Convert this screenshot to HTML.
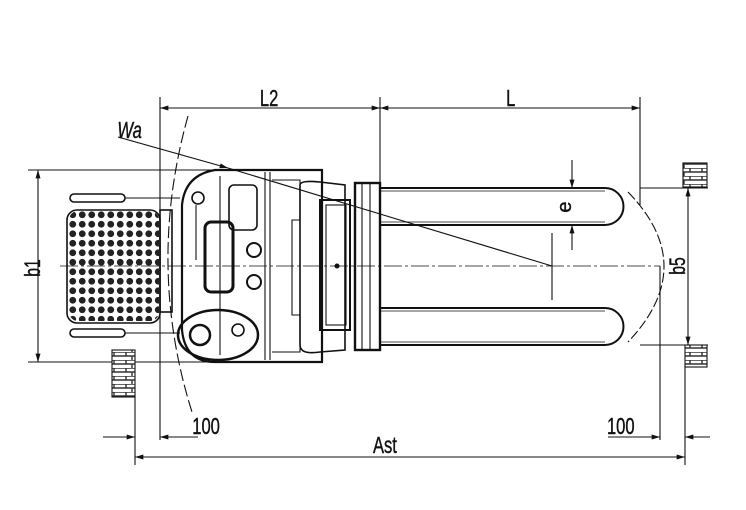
<!DOCTYPE html>
<html><head><style>body{margin:0;background:#fff}svg{display:block}text{font-family:"Liberation Sans",sans-serif;fill:#111;stroke:#111;stroke-width:0.4}</style></head><body>
<svg width="746" height="510" viewBox="0 0 746 510" xmlns="http://www.w3.org/2000/svg">
<defs>
<marker id="a" viewBox="0 0 10 6" refX="10" refY="3" markerWidth="16" markerHeight="5" orient="auto-start-reverse" markerUnits="userSpaceOnUse"><path d="M0,0L10,3L0,6z" fill="#111"/></marker>
<pattern id="dots" x="68" y="210" width="9.5" height="9.5" patternUnits="userSpaceOnUse"><circle cx="4.75" cy="4.75" r="3.4" fill="#222"/></pattern>
<pattern id="brick" width="24" height="8" patternUnits="userSpaceOnUse"><rect width="24" height="8" fill="#fff"/><path d="M0,0H24M0,4H24M6,0V4M18,0V4M12,4V8" stroke="#333" stroke-width="1.4"/></pattern>
</defs>
<g stroke="#111" fill="none" stroke-width="1.1">
<path d="M160,97V440M380,97V185M640,97V205M28,170H322M28,362H322M640,188H708M640,345H708M135,397V465M685,366V465M660,266V440"/>
<path d="M160,108H380" marker-start="url(#a)" marker-end="url(#a)"/>
<path d="M380,108H640" marker-start="url(#a)" marker-end="url(#a)"/>
<path d="M38,170V362" marker-start="url(#a)" marker-end="url(#a)"/>
<path d="M688,188V345" marker-start="url(#a)" marker-end="url(#a)"/>
<path d="M135,457H685" marker-start="url(#a)" marker-end="url(#a)"/>
<path d="M572,160V188" marker-end="url(#a)"/>
<path d="M572,250V225" marker-end="url(#a)"/>
<path d="M103,437H135" marker-end="url(#a)"/>
<path d="M160,437H198" marker-start="url(#a)"/>
<path d="M608,437H660" marker-end="url(#a)"/>
<path d="M685,437H710" marker-start="url(#a)"/>
<path d="M118,137L228,168" marker-end="url(#a)"/>
<path d="M228,168L552,266M552,233V300"/>
<path d="M60,266H660" stroke-dasharray="18,3,3,3" stroke-width="0.8"/>
<path d="M188,116Q146,266 192,412" stroke-dasharray="12,4"/>
<path d="M628,192Q700,266 628,342" stroke-dasharray="10,3"/>
<rect x="70" y="194" width="55" height="8" rx="4" stroke-width="1.6"/>
<rect x="70" y="329" width="55" height="8" rx="4" stroke-width="1.6"/>
<path d="M125,198H180M125,333H180"/>
<rect x="67" y="210" width="93" height="113" rx="10" stroke-width="1.6"/>
<rect x="69" y="211" width="90" height="110" rx="9" fill="url(#dots)" stroke="none"/>
<rect x="160" y="210" width="12" height="102" stroke-width="1.6"/>
<path d="M322,170H215Q185,175 182,205L182,330Q185,362 215,362H322Z" stroke-width="2.2"/>
<path d="M265,172V360M270,172V360M220,176V355"/>
<rect x="229" y="185" width="28" height="45" rx="5" stroke-width="1.6"/>
<rect x="205" y="222" width="28" height="70" rx="6" stroke-width="3"/>
<circle cx="254" cy="250" r="7" stroke-width="2"/>
<circle cx="254" cy="282" r="7" stroke-width="2"/>
<circle cx="198" cy="198" r="6" stroke-width="1.6"/>
<path d="M196,205V260"/>
<ellipse cx="218" cy="335" rx="40" ry="25" stroke-width="2.5"/>
<circle cx="200" cy="335" r="10" stroke-width="2.5"/>
<circle cx="238" cy="330" r="6" stroke-width="1.6"/>
<path d="M272,180H300V220H292V315H300V352H272"/>
<path d="M300,185Q300,180 320,182L345,185V350L320,352Q300,355 300,345Z" stroke-width="1.6"/>
<rect x="320" y="200" width="30" height="130" stroke-width="2"/>
<rect x="326" y="205" width="20" height="120"/>
<circle cx="337" cy="266" r="2" fill="#111"/>
<rect x="355" y="183" width="25" height="167" stroke-width="2.4"/>
<path d="M362,183V350M370,183V350"/>
<path d="M380,188H605A18.5,18.5 0 0 1 605,225H380" stroke-width="2"/>
<path d="M380,308H605A18.5,18.5 0 0 1 605,345H380" stroke-width="2"/>
<path d="M380,191H605M380,222H605M380,311H605M380,342H605" stroke-width="0.8"/>
<rect x="683" y="163" width="24" height="24" fill="url(#brick)"/>
<rect x="685" y="345" width="22" height="22" fill="url(#brick)"/>
<rect x="112" y="350" width="23" height="47" fill="url(#brick)"/>
</g>
<g font-size="23" transform="scale(0.72,1)">
<text x="361" y="106">L2</text>
<text x="703" y="106">L</text>
<text x="163" y="138" font-style="italic">Wa</text>
<text x="267" y="434">100</text>
<text x="843" y="434">100</text>
<text x="518" y="453">Ast</text>
</g>
<text font-size="22" transform="translate(40,268) rotate(-90) scale(0.72,1)" text-anchor="middle">b1</text>
<text font-size="22" transform="translate(685,266) rotate(-90) scale(0.72,1)" text-anchor="middle">b5</text>
<text font-size="20" transform="translate(571,207) rotate(-90)" text-anchor="middle">e</text>
</svg>
</body></html>
